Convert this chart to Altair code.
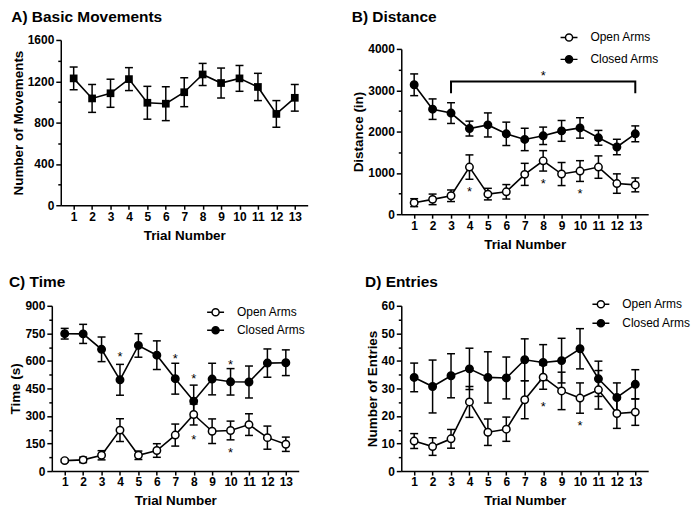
import altair as alt
import pandas as pd

trials = list(range(1, 14))

# A) Basic Movements
move_mean = [1228, 1034, 1084, 1221, 992, 983, 1094, 1266, 1183, 1228, 1145, 884, 1040]
move_sem = [110, 135, 136, 111, 159, 164, 140, 107, 145, 125, 132, 129, 129]

# B) Distance
dist_open = [279, 359, 446, 1140, 486, 542, 964, 1291, 972, 1044, 1140, 741, 709]
dist_open_sem = [96, 128, 140, 295, 140, 175, 267, 247, 279, 251, 271, 235, 168]
dist_closed = [3132, 2542, 2447, 2072, 2160, 1945, 1809, 1897, 2016, 2088, 1849, 1626, 1945]
dist_closed_sem = [263, 248, 251, 180, 291, 283, 271, 211, 252, 247, 179, 187, 192]

# C) Time
time_open = [57, 61, 86, 223, 86, 112, 196, 308, 217, 221, 253, 182, 146]
time_open_sem = [8, 15, 25, 62, 23, 37, 60, 57, 67, 51, 59, 63, 39]
time_closed = [748, 747, 663, 497, 684, 631, 503, 381, 501, 486, 485, 588, 590]
time_closed_sem = [29, 52, 67, 84, 64, 78, 84, 87, 86, 72, 87, 77, 70]

# D) Entries
entr_open = [10.9, 8.9, 11.7, 25.1, 14.1, 15.2, 25.9, 34.1, 29.1, 26.5, 29.5, 20.9, 21.4]
entr_open_sem = [2.7, 3.2, 3.4, 5.6, 4.8, 4.4, 6.9, 4.4, 6.8, 5.5, 7.0, 5.4, 4.8]
entr_closed = [34.0, 30.7, 34.6, 37.1, 34.0, 33.8, 40.4, 39.4, 40.1, 44.4, 33.5, 26.7, 31.5]
entr_closed_sem = [5.2, 9.6, 8.0, 7.5, 9.3, 7.6, 7.6, 6.5, 8.1, 7.3, 6.4, 5.3, 5.3]

# significance asterisks (trial, value) and bracket
dist_star_x = [4, 8, 10, 8]
dist_star_y = [614, 813, 550, 3419]
bracket_x = [3, 3, 13, 13]
bracket_y = [2925, 3212, 3212, 2925]
time_star_x = [4, 7, 8, 10, 8, 10]
time_star_y = [638, 625, 519, 595, 184, 112]
entr_star_x = [8, 10]
entr_star_y = [24.3, 17.5]

SERIES = ["Open Arms", "Closed Arms"]
FONT = "Liberation Sans"
W = 248
H = 166
LEG_PATH = ("M-1,0L-0.42,0M0.42,0L1,0M-0.42,0A0.42,0.42,0,1,1,0.42,0"
            "A0.42,0.42,0,1,1,-0.42,0Z")


def series_df(means, sems, name):
    return pd.DataFrame({
        "trial": trials, "value": means, "series": name,
        "lo": [m - s for m, s in zip(means, sems)],
        "hi": [m + s for m, s in zip(means, sems)],
    })


def panel(title, df, ytitle, ymax, ystep, ymajor, title_offset,
          legend=None, yoff=0, xshift=0, stars=None, bracket=None, square=False):
    h = H + yoff
    if yoff:
        yscale = alt.Scale(domain=[0, ymax], nice=False, range=[h, yoff])
    else:
        yscale = alt.Scale(domain=[0, ymax], nice=False)
    if xshift:
        xscale = alt.Scale(domain=[0.3, 13.7], nice=False, zero=False, range=[-xshift, W - xshift])
    else:
        xscale = alt.Scale(domain=[0.3, 13.7], nice=False, zero=False)
    xaxis = alt.Axis(values=trials, title="Trial Number", tickSize=4,
                     labelOverlap=False, format="d")
    yaxis = alt.Axis(
        values=list(range(0, ymax + 1, ystep)), title=ytitle, offset=xshift,
        labelExpr=f"datum.value % {ymajor} === 0 ? datum.label : ''",
        tickSize={"condition": {"test": f"datum.value % {ymajor} === 0", "value": 5}, "value": 3},
        labelOverlap=False, format="d")

    def X(f):
        return alt.X(f, scale=xscale, axis=xaxis)

    def Y(f):
        return alt.Y(f, scale=yscale, axis=yaxis)

    base = alt.Chart(df)
    layers = [
        base.mark_rule(color="black", strokeWidth=1.5).encode(x=X("trial:Q"), y=Y("lo:Q"), y2="hi:Q"),
        base.mark_tick(orient="horizontal", size=8, thickness=1.5, color="black", opacity=1).encode(
            x=X("trial:Q"), y=Y("lo:Q")),
        base.mark_tick(orient="horizontal", size=8, thickness=1.5, color="black", opacity=1).encode(
            x=X("trial:Q"), y=Y("hi:Q")),
        base.mark_line(color="black", strokeWidth=1.6).encode(
            x=X("trial:Q"), y=Y("value:Q"), detail="series:N"),
    ]
    if square:
        layers.append(base.mark_point(shape="square", filled=True, size=60, color="black", opacity=1).encode(
            x=X("trial:Q"), y=Y("value:Q")))
    else:
        leg = alt.Legend(
            title=None, orient="none", legendX=legend[0], legendY=legend[1],
            symbolType=LEG_PATH, symbolSize=289, symbolStrokeColor="black",
            symbolStrokeWidth=1.5, labelFont=FONT, labelFontSize=12,
            labelColor="black", labelOffset=12, rowPadding=legend[2], padding=0)
        layers.append(base.mark_point(shape="circle", filled=True, size=56, stroke="black",
                                      strokeWidth=1.5, opacity=1).encode(
            x=X("trial:Q"), y=Y("value:Q"),
            fill=alt.Fill("series:N", scale=alt.Scale(domain=SERIES, range=["white", "black"]),
                          legend=leg)))
    if stars is not None:
        sdf = pd.DataFrame({"trial": stars[0], "value": stars[1], "label": "*"})
        layers.append(alt.Chart(sdf).mark_text(font=FONT, fontSize=13, color="black", dy=3).encode(
            x=X("trial:Q"), y=Y("value:Q"), text="label:N"))
    if bracket is not None:
        bdf = pd.DataFrame({"trial": bracket[0], "value": bracket[1], "k": list(range(len(bracket[0])))})
        layers.append(alt.Chart(bdf).mark_line(color="black", strokeWidth=2).encode(
            x=X("trial:Q"), y=Y("value:Q"), order="k:Q"))
    return alt.layer(*layers).properties(
        width=W, height=h,
        title=alt.TitleParams(text=title, anchor="start", frame="bounds", fontSize=15.5,
                              fontWeight="bold", font=FONT, color="black", offset=title_offset))


dfA = series_df(move_mean, move_sem, "Movements")
dfB = pd.concat([series_df(dist_open, dist_open_sem, "Open Arms"),
                 series_df(dist_closed, dist_closed_sem, "Closed Arms")])
dfC = pd.concat([series_df(time_open, time_open_sem, "Open Arms"),
                 series_df(time_closed, time_closed_sem, "Closed Arms")])
dfD = pd.concat([series_df(entr_open, entr_open_sem, "Open Arms"),
                 series_df(entr_closed, entr_closed_sem, "Closed Arms")])

pA = panel("A) Basic Movements", dfA, "Number of Movements", 1600, 200, 400, 9, square=True)
pB = panel("B) Distance", dfB, "Distance (in)", 4000, 500, 1000, 3, legend=(159, -12, 5), yoff=9,
           stars=(dist_star_x, dist_star_y), bracket=(bracket_x, bracket_y))
pC = panel("C) Time", dfC, "Time (s)", 900, 75, 150, 9, legend=(146, -3, 1), xshift=9,
           stars=(time_star_x, time_star_y))
pD = panel("D) Entries", dfD, "Number of Entries", 60, 5, 10, 4, legend=(191, -11, 2),
           stars=(entr_star_x, entr_star_y))

chart = alt.concat(pA, pB, pC, pD, columns=2, spacing={"row": 24, "column": 44}).resolve_scale(
    x="independent", y="independent", fill="independent").resolve_legend(fill="independent").properties(
    padding={"left": 0, "top": 0, "right": 0, "bottom": 0}).configure_view(stroke=None).configure_axis(
    domainColor="black", domainWidth=1.5, tickColor="black", tickWidth=1.5,
    labelFont=FONT, labelFontSize=12, labelFontWeight="bold", labelColor="black", labelPadding=2,
    titleFont=FONT, titleFontSize=13.5, titleFontWeight="bold", titleColor="black", grid=False
).configure_axisX(titlePadding=6).configure_axisY(titlePadding=2)

chart.save("out.html", embed_options={"renderer": "svg", "actions": False})
